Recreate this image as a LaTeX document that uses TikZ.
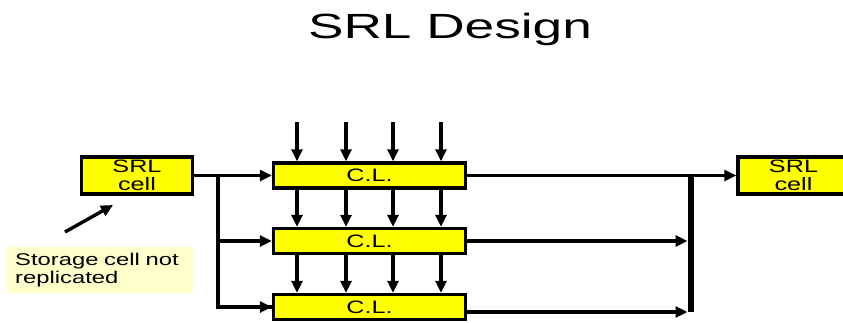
\documentclass[tikz,border=0pt]{standalone}
\usepackage{fontspec}
\setmainfont{Liberation Sans}
\newfontfamily\boxsans[FakeStretch=1.4]{Liberation Sans}
\newfontfamily\titlesans[FakeStretch=1.52]{Liberation Sans}
\usetikzlibrary{arrows.meta}
\definecolor{notebg}{HTML}{FFFFCC}
\definecolor{cellyellow}{HTML}{FFFF00}
\begin{document}
\begin{tikzpicture}[x=1pt,y=-1pt,
  box/.style={draw, line width=3.4pt, fill=cellyellow, inner sep=0pt, align=center,
              font=\boxsans\fontsize{18}{18.5}\selectfont},
  srlbox/.style={box, minimum width=111pt, minimum height=37pt},
  clbox/.style={box, minimum width=192pt, minimum height=25pt},
  wire/.style={line width=3.4pt},
  arr/.style={wire, -{Triangle[length=12pt,width=11pt]}},
  note/.style={fill=notebg, inner xsep=8pt, inner ysep=0pt, text width=170pt,
               minimum height=46pt, align=left,
               font=\boxsans\fontsize{17}{17.5}\selectfont}]
\useasboundingbox (0,0) rectangle (843,322);
\fill[white] (0,0) rectangle (843,322);
\clip (0,0) rectangle (843,322);

% title
\node[font=\titlesans\fontsize{35}{40}\selectfont, anchor=base] (title) at (450,38) {SRL Design};

% storage cells and combinational logic copies
\node[srlbox] (srl1) at (137,175.5) {SRL\\cell};
\node[clbox]  (cl1)  at (369.5,175.5) {C.L.};
\node[clbox]  (cl2)  at (369.5,241) {C.L.};
\node[clbox]  (cl3)  at (369.5,307) {C.L.};
\node[srlbox] (srl2) at (793.5,175.5) {SRL\\cell};

% note with pointer
\node[note, anchor=north west] (note) at (7,247) {Storage cell not replicated};
\coordinate (ptail) at (65,232);
\coordinate (phead) at (113,205);
\draw[arr] (ptail) -- (phead);

% fan-out of the stored value
\coordinate (split) at (218,175.5);
\draw[arr] (srl1.east) -- (cl1.west);
\draw[wire] (split) |- (cl3.west);
\draw[arr] (split |- cl2.west) -- (cl2.west);
\draw[arr] (split |- cl3.west) -- (cl3.west);

% primary inputs through the replicated logic
\foreach \i/\x in {1/297,2/346,3/393,4/441}{
  \coordinate (in\i) at (\x,122);
  \draw[arr] (in\i) -- (in\i |- cl1.north);
  \draw[arr] (in\i |- cl1.south) -- (in\i |- cl2.north);
  \draw[arr] (in\i |- cl2.south) -- (in\i |- cl3.north);
}

% merge bar and output
\coordinate (bartop) at (690.5,175.5);
\coordinate (barbot) at (690.5,312);
\draw[line width=6pt] (bartop) -- (barbot);
\draw[arr] (cl1.east) -- (srl2.west);
\draw[arr] (cl2.east) -- ([xshift=-3pt]cl2.east -| bartop);
\draw[arr] (cl3.east |- barbot) -- ([xshift=-3pt]barbot);
\end{tikzpicture}
\end{document}
